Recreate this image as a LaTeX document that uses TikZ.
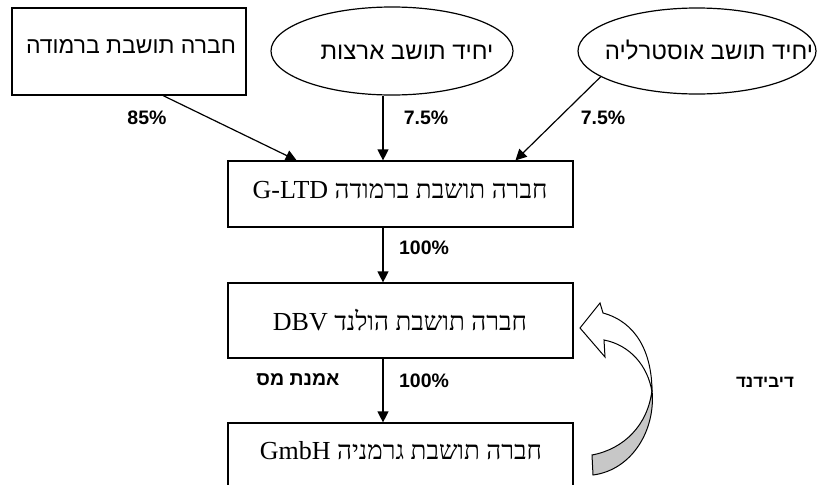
\documentclass[tikz,border=0pt]{standalone}
\usepackage{fontspec}
\setmainfont{Liberation Serif}
\newfontfamily\hes[Script=Hebrew]{Liberation Sans}
\newfontfamily\her[Script=Hebrew]{Liberation Serif}
\TeXXeTstate=1
\usetikzlibrary{shapes.geometric,arrows.meta,calc}
\tikzset{
  ln/.style={line width=1.2pt},
  arr/.style={ln,-{Triangle[length=11pt,width=11pt]}},
  boxs/.style={draw,ln,rectangle,inner sep=0pt},
  ell/.style={draw,ln,ellipse,inner sep=0pt},
  tsans/.style={inner sep=0pt,font=\hes\fontsize{23}{25}\selectfont},
  tell/.style={inner sep=0pt,font=\hes\fontsize{24}{26}\selectfont},
  tser/.style={inner sep=0pt,font=\her\fontsize{26}{28}\selectfont},
  lab/.style={inner sep=0pt,font=\hes\bfseries\fontsize{19.5}{21}\selectfont},
  labs/.style={inner sep=0pt,font=\hes\bfseries\fontsize{17}{19}\selectfont},
}
\begin{document}
\begin{tikzpicture}[x=1pt,y=-1pt]
\useasboundingbox (0,0) rectangle (820,485);
\coordinate (mainx) at (383,0);
% top row
\node[boxs,minimum width=234pt,minimum height=87pt] (b1) at (129,51.5) {};
\node[tsans] (b1t) at (131,47) {\beginR חברה תושבת ברמודה\endR};
\node[ell,minimum width=242pt,minimum height=88pt] (e1) at (392,51) {};
\node[tell] (e1t) at (407,52) {\beginR יחיד תושב ארצות\endR};
\node[ell,minimum width=238pt,minimum height=86pt] (e2) at (697,51) {};
\node[tell] (e2t) at (709,50) {\beginR יחיד תושב אוסטרליה\endR};
% middle column
\node[boxs,minimum width=345pt,minimum height=66pt] (g) at (400.5,194) {};
\node[tser] (gt) at (400,190) {\beginR חברה תושבת ברמודה \beginL G-LTD\endL\endR};
\node[boxs,minimum width=345pt,minimum height=75pt] (d) at (400.5,320.5) {};
\node[tser] (dt) at (400,320) {\beginR חברה תושבת הולנד \beginL DBV\endL\endR};
\node[boxs,minimum width=345pt,minimum height=90pt] (gm) at (400.5,468) {};
\node[tser] (gmt) at (401,451) {\beginR חברה תושבת גרמניה \beginL GmbH\endL\endR};
% connectors
\draw[arr] ($(b1.south west)!0.645!(b1.south east)$) -- ($(g.north west)!0.2!(g.north east)$);
\draw[arr] (e1.south -| mainx) -- (g.north -| mainx);
\draw[arr] (e2.195) -- ($(g.north west)!0.832!(g.north east)$);
\draw[arr] (g.south -| mainx) -- (d.north -| mainx);
\draw[arr] (d.south -| mainx) -- (gm.north -| mainx);
% labels
\node[lab] (l1) at (147,118) {85\%};
\node[lab] (l2) at (426,118) {7.5\%};
\node[lab] (l3) at (603,118) {7.5\%};
\node[lab] (l4) at (424,248) {100\%};
\node[lab] (l5) at (424,381) {100\%};
\node[lab] (l6) at (298,380) {\beginR אמנת מס\endR};
\node[labs] (l7) at (765,382) {\beginR דיבידנד\endR};
% curved block arrow (dividend)
\draw[ln,line width=1pt,fill=black!22] (652,390) .. controls (656,430) and (632,470) .. (593,475) -- (592,455) .. controls (624,449) and (648,425) .. (652,390) -- cycle;
\draw[ln,line width=1pt,fill=white] (580,328) -- (600,303) -- (603,313) .. controls (636,322) and (652,352) .. (652,392) .. controls (648,366) and (630,345) .. (604,340) -- (605,357) -- cycle;
\end{tikzpicture}
\end{document}
